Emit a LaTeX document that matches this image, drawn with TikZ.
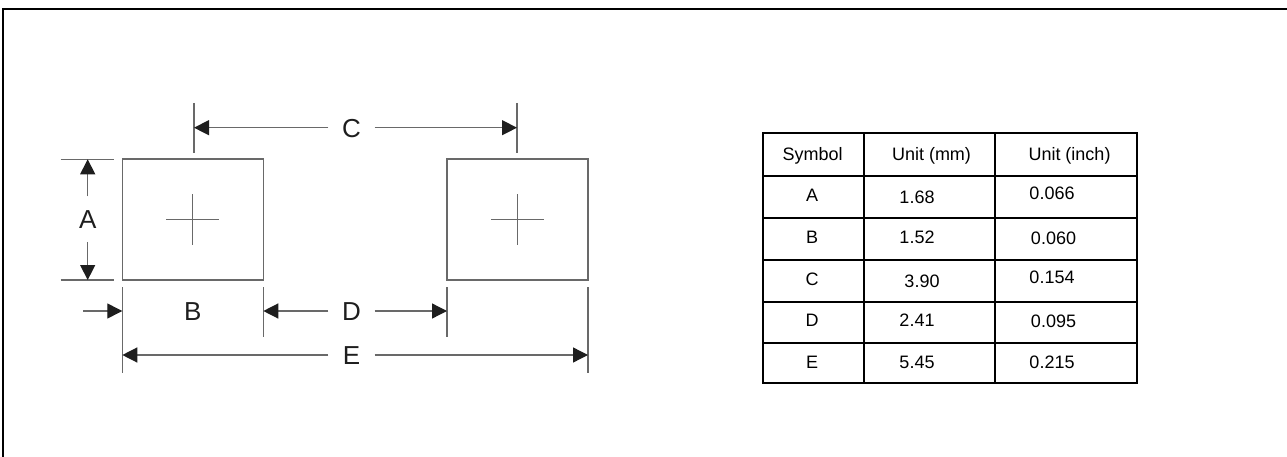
\documentclass[tikz,border=0pt]{standalone}
\usepackage{fontspec}
\setmainfont{Liberation Sans}
\usetikzlibrary{arrows.meta}
\definecolor{linegray}{RGB}{105,105,105}
\definecolor{inkblack}{RGB}{30,30,30}
\tikzset{
	pad/.style={draw=linegray, line width=1.3pt, minimum width=141pt, minimum height=121pt, inner sep=0pt},
	ext/.style={draw=linegray, line width=1.3pt},
	dim/.style={draw=linegray, line width=1.3pt, -{Triangle[length=15pt,width=15pt,color=inkblack]}},
	dimlabel/.style={font=\fontsize{26}{26}\selectfont, text=inkblack, minimum width=46pt, minimum height=45pt, inner sep=0pt, text height=19pt, text depth=0pt},
	cell/.style={font=\fontsize{18}{18}\selectfont, inner sep=0pt, text height=13pt, text depth=0pt},
	thickrule/.style={line width=2pt},
	thinrule/.style={line width=1.2pt},
}
\begin{document}
\begin{tikzpicture}[x=1pt, y=-1pt]
	\useasboundingbox (0,0) rectangle (1287,457);
	\draw[thickrule] (3,460) -- (3,9) -- (1290,9);
	% pads
	\node[pad]		(0)	at (192.8,219.6)	{};
	\node[pad]		(1)	at (517.5,219.6)	{};
	\draw[ext] ([xshift=-26.5pt]0.center) -- ([xshift=26.5pt]0.center);
	\draw[ext] ([yshift=25.5pt]0.center) -- ([yshift=-25.5pt]0.center);
	\draw[ext] ([xshift=-26.5pt]1.center) -- ([xshift=26.5pt]1.center);
	\draw[ext] ([yshift=25.5pt]1.center) -- ([yshift=-25.5pt]1.center);
	% C
	\draw[ext] (194,103) -- (194,153);
	\draw[ext] (517,103) -- (517,153);
	\coordinate (c1) at (194,127.7);
	\coordinate (c2) at (517,127.7);
	\node[dimlabel]	(C)	at (351.5,127.7)	{C};
	\draw[dim] (C) -- (c1);
	\draw[dim] (C) -- (c2);
	% A
	\draw[ext] (60.7,159.3) -- (114,159.3);
	\draw[ext] (60.7,280) -- (114,280);
	\coordinate (a1) at (87.7,159.3);
	\coordinate (a2) at (87.7,280);
	\node[dimlabel]	(A)	at (87.7,219.2)	{A};
	\draw[dim] (A) -- (a1);
	\draw[dim] (A) -- (a2);
	% B, D, E
	\draw[ext] (122.3,287) -- (122.3,373);
	\draw[ext] (263.3,287) -- (263.3,337);
	\draw[ext] (447,287) -- (447,337);
	\draw[ext] (588,287) -- (588,373);
	\coordinate (b0) at (83,311);
	\coordinate (b1) at (122.3,311);
	\node[dimlabel]	(B)	at (192.8,311)	{B};
	\draw[dim] (b0) -- (b1);
	\coordinate (d1) at (263.3,311);
	\coordinate (d2) at (447,311);
	\node[dimlabel]	(D)	at (351.5,311)	{D};
	\draw[dim] (D) -- (d1);
	\draw[dim] (D) -- (d2);
	\coordinate (e1) at (122.3,355);
	\coordinate (e2) at (588,355);
	\node[dimlabel]	(E)	at (351.5,355)	{E};
	\draw[dim] (E) -- (e1);
	\draw[dim] (E) -- (e2);
	% table
	\draw[thickrule] (763,133) rectangle (1137,383);
	\draw[thickrule] (864,133) -- (864,383);
	\draw[thickrule] (995,133) -- (995,383);
	\draw[thinrule] (763,176) -- (1137,176);
	\draw[thinrule] (763,218) -- (1137,218);
	\draw[thinrule] (763,260) -- (1137,260);
	\draw[thinrule] (763,302) -- (1137,302);
	\draw[thinrule] (763,343) -- (1137,343);
	\node[cell]	(s0)	at (812.5,154)	{Symbol};
	\node[cell]	(m0)	at (931.5,154)	{Unit (mm)};
	\node[cell]	(i0)	at (1069.5,154)	{Unit (inch)};
	\node[cell]	(s1)	at (812,195)	{A};
	\node[cell]	(m1)	at (917,197)	{1.68};
	\node[cell]	(i1)	at (1052,193)	{0.066};
	\node[cell]	(s2)	at (812,237)	{B};
	\node[cell]	(m2)	at (917,237)	{1.52};
	\node[cell]	(i2)	at (1053.5,238)	{0.060};
	\node[cell]	(s3)	at (812,279)	{C};
	\node[cell]	(m3)	at (922,281)	{3.90};
	\node[cell]	(i3)	at (1052,277)	{0.154};
	\node[cell]	(s4)	at (812,320)	{D};
	\node[cell]	(m4)	at (917,320)	{2.41};
	\node[cell]	(i4)	at (1053.5,321)	{0.095};
	\node[cell]	(s5)	at (812,362)	{E};
	\node[cell]	(m5)	at (917,362)	{5.45};
	\node[cell]	(i5)	at (1052,362)	{0.215};
\end{tikzpicture}
\end{document}
